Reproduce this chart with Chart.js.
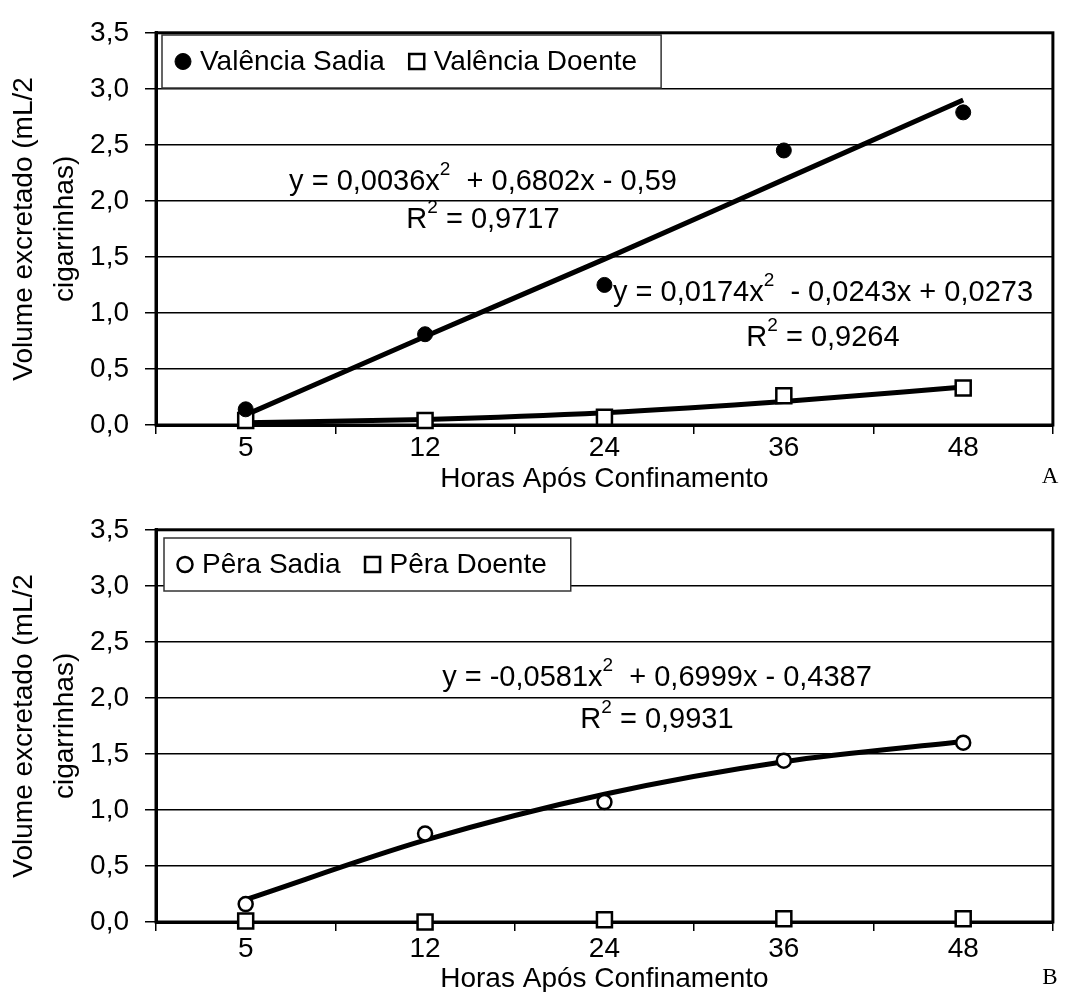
<!DOCTYPE html>
<html>
<head>
<meta charset="utf-8">
<script src="https://cdn.jsdelivr.net/npm/chart.js@4.4.1/dist/chart.umd.min.js"></script>
<style>
  html, body { margin:0; padding:0; background:#fff; }
  #wrap { position:relative; width:1066px; height:992px; overflow:hidden; }
  .panel { position:absolute; left:0; width:1066px; height:496px; }
</style>
</head>
<body>
<div id="wrap">
  <div class="panel" style="top:0"><canvas id="chartA" width="1066" height="496"></canvas></div>
  <div class="panel" style="top:497px"><canvas id="chartB" width="1066" height="496"></canvas></div>
</div>
<script>
// dados
const hours = ["5", "12", "24", "36", "48"];
const yTicks = [0, 0.5, 1, 1.5, 2, 2.5, 3, 3.5];

const valenciaSadia       = [0.14, 0.81, 1.25, 2.45, 2.79];
const valenciaDoente      = [0.04, 0.04, 0.07, 0.26, 0.33];
const valenciaSadiaTrend  = [0.09, 0.79, 1.48, 2.19, 2.90];
const valenciaDoenteTrend = [0.02, 0.05, 0.11, 0.21, 0.34];

const peraSadia      = [0.16, 0.79, 1.07, 1.44, 1.60];
const peraDoente     = [0.01, 0.00, 0.02, 0.03, 0.03];
const peraSadiaTrend = [0.20, 0.73, 1.14, 1.43, 1.61];

const eqValenciaSadia  = [["y = 0,0036x", "2", "  + 0,6802x - 0,59"], ["R", "2", " = 0,9717"]];
const eqValenciaDoente = [["y = 0,0174x", "2", "  - 0,0243x + 0,0273"], ["R", "2", " = 0,9264"]];
const eqPeraSadia      = [["y = -0,0581x", "2", "  + 0,6999x - 0,4387"], ["R", "2", " = 0,9931"]];

const FAMILY = "'Liberation Sans', Arial, sans-serif";
const FS = 28;
const FS_EQ = 29;
Chart.defaults.font.family = FAMILY;
Chart.defaults.color = "#000";

/* ---------- marcadores ---------- */
function drawMarker(ctx, style, x, y){
  ctx.save();
  ctx.lineWidth = style.bw;
  ctx.strokeStyle = "#000";
  ctx.fillStyle = style.fill;
  ctx.beginPath();
  if(style.shape === "rect"){
    const h = style.size/2;
    ctx.rect(x-h, y-h, style.size, style.size);
  } else {
    ctx.arc(x, y, style.size/2, 0, Math.PI*2);
  }
  ctx.fill(); ctx.stroke();
  ctx.restore();
}

// texto com expoente (x², R²)
function drawRich(ctx, parts, cx, cy){
  const big = `${FS_EQ}px ${FAMILY}`, small = `${Math.round(FS_EQ*0.64)}px ${FAMILY}`;
  const widths = parts.map((p,i)=>{ ctx.font = i===1 ? small : big; return ctx.measureText(p).width; });
  let x = cx - widths.reduce((a,b)=>a+b,0)/2;
  ctx.textBaseline = "middle"; ctx.textAlign = "left"; ctx.fillStyle = "#000";
  parts.forEach((p,i)=>{
    ctx.font = i===1 ? small : big;
    ctx.fillText(p, x, i===1 ? cy-12 : cy);
    x += widths[i];
  });
}

const decor = {
  id: "decor",
  beforeDatasetsDraw(chart, args, o){
    const {ctx, chartArea:a} = chart;
    ctx.save();
    ctx.lineWidth = 3; ctx.strokeStyle = "#000";
    ctx.strokeRect(a.left, a.top, a.right-a.left, a.bottom-a.top);
    ctx.restore();
  },
  afterDraw(chart, args, o){
    const {ctx} = chart;
    ctx.save();
    // legenda
    const lg = o.legend;
    ctx.font = `${FS}px ${FAMILY}`;
    let x = lg.x + 21;
    const cy = lg.y + lg.h/2;
    const items = lg.items.map(it=>{
      const mx = x, tx = x + 17;
      const w = ctx.measureText(it.label).width;
      x = tx + w + 32;
      return { ...it, mx, tx };
    });
    const boxW = (x - 32 + 24) - lg.x;
    ctx.fillStyle = "#fff"; ctx.fillRect(lg.x, lg.y, boxW, lg.h);
    ctx.lineWidth = 1.5; ctx.strokeStyle = "#333"; ctx.strokeRect(lg.x, lg.y, boxW, lg.h);
    items.forEach(it=>{
      drawMarker(ctx, it.marker, it.mx, cy);
      ctx.fillStyle = "#000"; ctx.textBaseline = "middle"; ctx.textAlign = "left";
      ctx.font = `${FS}px ${FAMILY}`;
      ctx.fillText(it.label, it.tx, cy+1);
    });
    // equações
    o.notes.forEach(n=>{
      drawRich(ctx, n.lines[0], n.cx, n.cy);
      drawRich(ctx, n.lines[1], n.cx, n.cy + n.gap);
    });
    // letra do painel
    ctx.font = `23px 'Liberation Serif', 'Times New Roman', serif`;
    ctx.textAlign = "center"; ctx.textBaseline = "middle"; ctx.fillStyle = "#000";
    ctx.fillText(o.letter.text, o.letter.x, o.letter.y);
    ctx.restore();
  }
};

const fmt = v => Number(v).toFixed(1).replace(".", ",");

function scalesCfg(tickPad, titlePad){
  return {
    x: {
      type: "category", labels: hours, offset: true,
      grid: { offset: true, drawOnChartArea: false, color: "#000", lineWidth: 1.5, tickLength: 9 },
      border: { color: "#000", width: 3 },
      ticks: { font: { size: FS }, color: "#000", padding: tickPad, maxRotation: 0 },
      title: { display: true, text: "Horas Após Confinamento", font: { size: FS, lineHeight: 1 }, color: "#000", padding: { top: 0, bottom: titlePad } },
      afterFit: s => { s.height = 71; }
    },
    y: {
      min: 0, max: 3.5,
      afterBuildTicks: s => { s.ticks = yTicks.map(v => ({ value: v })); },
      ticks: { callback: v => fmt(v), font: { size: FS }, color: "#000", padding: 16 },
      grid: { color: "#000", lineWidth: 1.5, tickLength: 11 },
      border: { color: "#000", width: 3 },
      title: { display: true, text: ["Volume excretado (mL/2", "cigarrinhas)"], font: { size: FS, lineHeight: 1.45 }, color: "#000", padding: { top: 4, bottom: 0 } },
      afterFit: s => { s.width = 156; }
    }
  };
}

const mk = {
  filledCircle: { shape: "circle", size: 16, fill: "#000", bw: 1 },
  openCircle:   { shape: "circle", size: 15, fill: "#fff", bw: 2.5 },
  square:       { shape: "rect",   size: 15, fill: "#fff", bw: 2.5 }
};

function markerDs(label, data, m){
  return {
    label, data, showLine: false, clip: false, order: 0,
    pointStyle: m.shape === "rect" ? "rect" : "circle",
    pointRadius: m.shape === "rect" ? m.size/Math.SQRT2 : m.size/2 - 0.5,
    pointBackgroundColor: m.fill, pointBorderColor: "#000", pointBorderWidth: m.bw
  };
}
function trendDs(data){
  return {
    label: "trend", data, order: 1, borderColor: "#000", borderWidth: 5,
    pointRadius: 0, cubicInterpolationMode: "monotone", fill: false
  };
}

const baseOpts = (decorOpts, tickPad, titlePad) => ({
  responsive: false, animation: false,
  layout: { padding: { top: 26, right: 8, left: 0, bottom: 0 } },
  scales: scalesCfg(tickPad, titlePad),
  plugins: { legend: { display: false }, tooltip: { enabled: false }, decor: decorOpts }
});

new Chart(document.getElementById("chartA"), {
  type: "line",
  data: { labels: hours, datasets: [
    markerDs("Valência Sadia", valenciaSadia, mk.filledCircle),
    markerDs("Valência Doente", valenciaDoente, mk.square),
    trendDs(valenciaSadiaTrend),
    trendDs(valenciaDoenteTrend)
  ]},
  options: baseOpts({
    legend: { x: 162, y: 35, h: 53, items: [
      { label: "Valência Sadia", marker: mk.filledCircle },
      { label: "Valência Doente", marker: mk.square }
    ]},
    notes: [
      { lines: eqValenciaSadia, cx: 483, cy: 182, gap: 38 },
      { lines: eqValenciaDoente, cx: 823, cy: 293, gap: 45 }
    ],
    letter: { text: "A", x: 1050, y: 477 }
  }, -3, 3),
  plugins: [decor]
});

new Chart(document.getElementById("chartB"), {
  type: "line",
  data: { labels: hours, datasets: [
    markerDs("Pêra Sadia", peraSadia, mk.openCircle),
    markerDs("Pêra Doente", peraDoente, mk.square),
    trendDs(peraSadiaTrend)
  ]},
  options: baseOpts({
    legend: { x: 164, y: 41, h: 53, items: [
      { label: "Pêra Sadia", marker: mk.openCircle },
      { label: "Pêra Doente", marker: mk.square }
    ]},
    notes: [
      { lines: eqPeraSadia, cx: 657, cy: 181, gap: 42 }
    ],
    letter: { text: "B", x: 1050, y: 481 }
  }, 1, 0),
  plugins: [decor]
});
</script>
</body>
</html>
